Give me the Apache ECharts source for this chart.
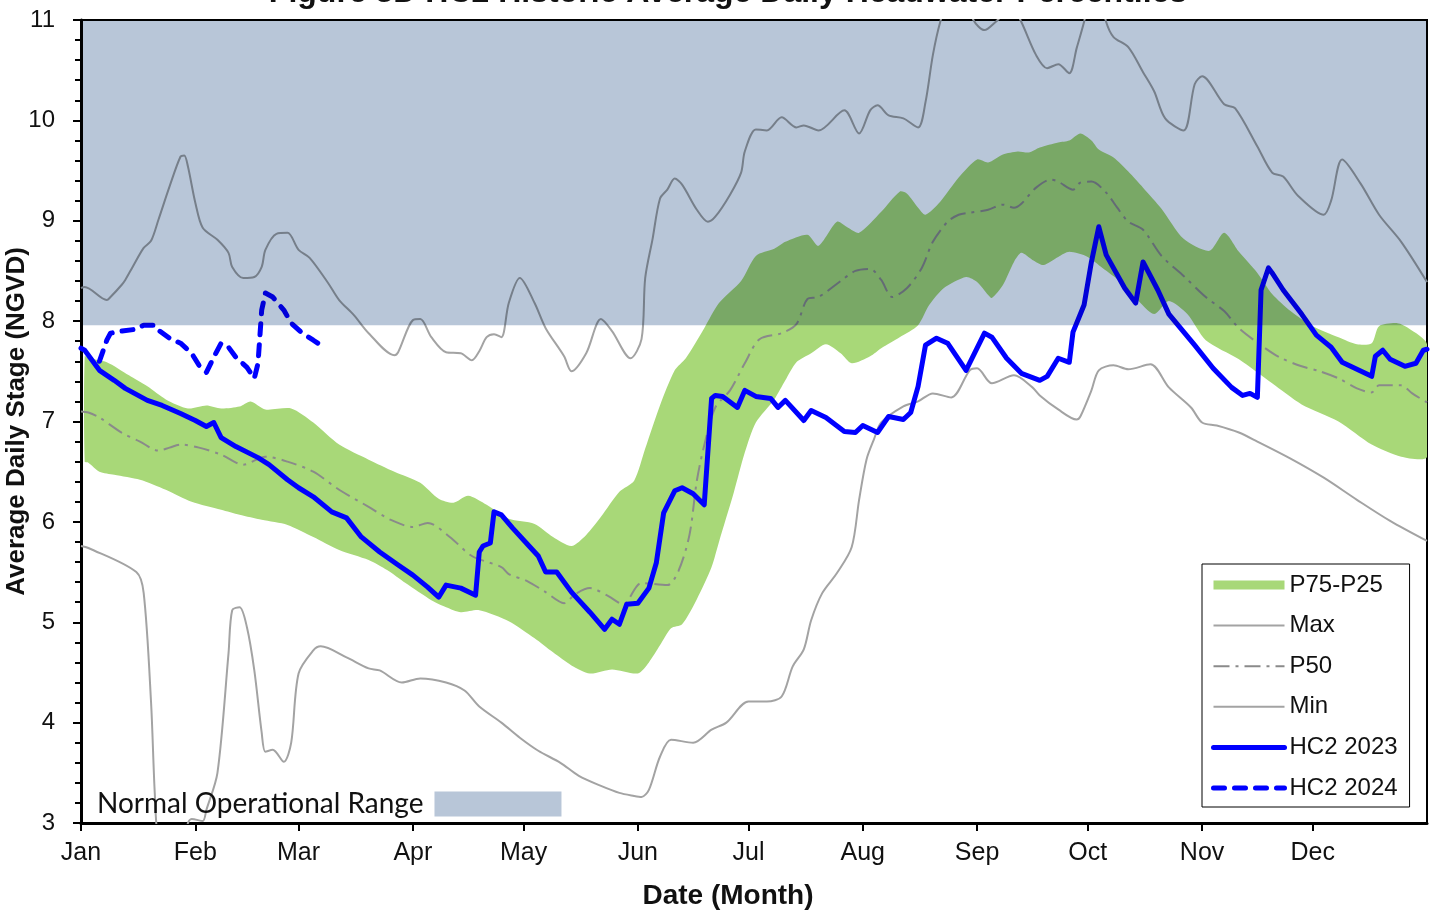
<!DOCTYPE html>
<html>
<head>
<meta charset="utf-8">
<script src="https://cdn.jsdelivr.net/npm/echarts@6/dist/echarts.min.js"></script>
<style>
  html, body { margin: 0; padding: 0; background: #fff; }
  #chart { width: 1456px; height: 913px; }
</style>
</head>
<body>
<div id="chart"></div>
<script>
// Month ticks (day of year where each month starts)
const monthLabels = ['Jan','Feb','Mar','Apr','May','Jun','Jul','Aug','Sep','Oct','Nov','Dec'];
const monthStartDays = [0, 31, 59, 90, 120, 151, 181, 212, 243, 273, 304, 334];
const yearDays = [0, 365];

// Normal operational range (stage, ft NGVD)
const opRange = [7.96, 11];

// Historic percentiles: [day of year, stage]
const p75 = [[1,7.65],[2,7.63],[7,7.59],[13,7.46],[18,7.35],[23,7.22],[29,7.13],[34,7.16],[38,7.13],[43,7.15],[46,7.20],[50,7.12],[57,7.13],[63,6.99],[70,6.77],[78,6.62],[85,6.50],[92,6.39],[97,6.23],[101,6.19],[105,6.26],[110,6.17],[116,6.03],[123,5.98],[128,5.85],[133,5.76],[137,5.87],[141,6.05],[146,6.30],[150,6.41],[153,6.73],[157,7.16],[161,7.51],[164,7.63],[169,7.93],[173,8.18],[179,8.40],[183,8.65],[188,8.72],[191,8.79],[197,8.86],[200,8.75],[205,8.99],[208,8.93],[211,8.88],[217,9.09],[222,9.29],[224,9.27],[227,9.13],[229,9.06],[233,9.19],[238,9.43],[243,9.61],[246,9.58],[250,9.66],[254,9.69],[257,9.68],[260,9.73],[265,9.78],[268,9.80],[271,9.87],[274,9.80],[276,9.71],[280,9.63],[284,9.49],[288,9.33],[293,9.12],[299,8.82],[306,8.70],[310,8.88],[314,8.69],[319,8.48],[323,8.27],[328,8.10],[334,7.95],[341,7.84],[346,7.77],[350,7.78],[352,7.95],[357,7.98],[360,7.93],[365,7.77]];

const p25 = [[1,6.60],[2,6.59],[5,6.50],[9,6.47],[16,6.42],[23,6.32],[30,6.20],[38,6.12],[43,6.07],[49,6.02],[56,5.97],[63,5.85],[70,5.72],[78,5.62],[83,5.52],[88,5.39],[95,5.22],[99,5.15],[103,5.10],[108,5.12],[116,5.01],[123,4.84],[128,4.70],[133,4.57],[138,4.49],[144,4.53],[151,4.49],[154,4.60],[157,4.77],[160,4.94],[163,4.98],[167,5.23],[171,5.55],[173,5.80],[177,6.29],[180,6.69],[183,6.99],[188,7.22],[191,7.41],[194,7.59],[198,7.68],[202,7.77],[206,7.68],[209,7.58],[214,7.65],[217,7.73],[222,7.84],[227,7.96],[230,8.16],[234,8.33],[240,8.44],[243,8.39],[246,8.26],[247,8.23],[250,8.36],[253,8.59],[255,8.68],[258,8.61],[261,8.56],[265,8.64],[268,8.69],[273,8.64],[277,8.53],[282,8.39],[286,8.23],[291,8.07],[295,8.20],[300,8.07],[305,7.81],[314,7.62],[323,7.38],[331,7.17],[341,7.00],[350,6.77],[358,6.65],[365,6.65]];

const p50 = [[0,7.10],[2,7.09],[5,7.04],[11,6.89],[16,6.80],[21,6.71],[24,6.74],[27,6.77],[32,6.74],[38,6.67],[44,6.57],[50,6.65],[56,6.60],[63,6.50],[70,6.32],[78,6.15],[84,6.02],[90,5.95],[94,5.99],[100,5.85],[106,5.66],[114,5.55],[116,5.48],[121,5.41],[126,5.30],[131,5.19],[134,5.28],[138,5.34],[143,5.26],[147,5.18],[152,5.39],[159,5.37],[162,5.51],[165,5.87],[167,6.41],[169,6.76],[172,7.14],[176,7.31],[180,7.58],[184,7.82],[190,7.88],[194,7.97],[197,8.22],[200,8.24],[206,8.40],[210,8.50],[214,8.52],[217,8.41],[220,8.24],[224,8.33],[228,8.53],[231,8.79],[235,8.99],[238,9.06],[241,9.08],[246,9.11],[250,9.16],[253,9.13],[255,9.17],[259,9.33],[263,9.41],[265,9.39],[269,9.31],[271,9.38],[274,9.39],[278,9.28],[281,9.13],[284,8.99],[288,8.91],[293,8.65],[299,8.45],[305,8.24],[310,8.10],[314,7.93],[320,7.76],[325,7.64],[331,7.55],[336,7.50],[341,7.43],[346,7.33],[350,7.29],[352,7.36],[358,7.36],[361,7.28],[365,7.19]];

const maxStage = [[0,8.33],[1,8.34],[7,8.21],[8,8.24],[11,8.36],[12,8.41],[14,8.54],[17,8.73],[19,8.80],[21,9.01],[24,9.34],[27,9.64],[28,9.65],[29,9.54],[31,9.18],[33,8.93],[37,8.81],[40,8.68],[41,8.54],[44,8.43],[47,8.44],[49,8.54],[50,8.71],[53,8.87],[56,8.88],[59,8.71],[62,8.63],[67,8.38],[70,8.21],[74,8.06],[78,7.88],[85,7.66],[86,7.69],[90,8.01],[92,8.02],[95,7.84],[99,7.69],[103,7.68],[106,7.61],[108,7.70],[110,7.84],[112,7.87],[114,7.84],[116,8.18],[119,8.43],[123,8.18],[126,7.93],[131,7.65],[133,7.50],[137,7.68],[141,8.02],[144,7.90],[149,7.63],[152,7.82],[153,8.43],[155,8.82],[157,9.22],[159,9.31],[161,9.42],[163,9.36],[167,9.11],[170,8.99],[172,9.04],[176,9.26],[179,9.48],[180,9.69],[183,9.91],[186,9.90],[190,10.03],[194,9.93],[196,9.95],[200,9.90],[207,10.10],[211,9.87],[214,10.10],[216,10.15],[219,10.05],[223,10.02],[227,9.93],[229,10.18],[231,10.65],[233,10.98],[236,11.30],[240,11.25],[242,11.00],[245,10.90],[248,10.98],[250,11.05],[253,11.10],[255,10.98],[259,10.65],[262,10.52],[265,10.56],[268,10.47],[270,10.72],[272,10.98],[274,11.30],[276,11.30],[278,10.98],[280,10.83],[284,10.73],[288,10.48],[291,10.29],[294,10.02],[299,9.90],[302,10.36],[304,10.44],[310,10.16],[313,10.12],[319,9.74],[323,9.48],[326,9.44],[330,9.25],[337,9.06],[339,9.20],[342,9.61],[347,9.37],[352,9.06],[358,8.79],[365,8.39]];

const minStage = [[0,5.76],[2,5.74],[15,5.50],[17,5.29],[19,4.20],[20,3.30],[21,2.80],[24,2.50],[28,2.80],[29,3.00],[30,3.04],[33,3.02],[34,3.13],[37,3.50],[40,4.69],[41,5.12],[43,5.15],[45,4.95],[47,4.52],[49,3.90],[50,3.71],[52,3.73],[55,3.61],[57,3.80],[59,4.49],[63,4.72],[65,4.76],[72,4.65],[78,4.54],[81,4.52],[87,4.40],[92,4.44],[99,4.40],[104,4.32],[108,4.16],[114,4.00],[119,3.85],[124,3.72],[130,3.60],[135,3.47],[141,3.37],[146,3.30],[150,3.27],[152,3.26],[154,3.33],[157,3.66],[160,3.83],[166,3.80],[171,3.93],[175,4.00],[181,4.21],[186,4.21],[190,4.26],[193,4.56],[196,4.73],[198,5.02],[201,5.29],[205,5.49],[209,5.75],[211,6.22],[213,6.62],[215,6.82],[217,6.99],[223,7.15],[227,7.20],[231,7.28],[236,7.24],[241,7.51],[243,7.53],[247,7.38],[253,7.46],[258,7.34],[260,7.26],[265,7.12],[270,7.02],[271,7.05],[274,7.31],[276,7.51],[280,7.56],[284,7.52],[290,7.57],[295,7.34],[301,7.14],[304,6.99],[308,6.96],[314,6.89],[319,6.80],[328,6.63],[337,6.44],[346,6.22],[355,6.01],[365,5.81]];

// Observed daily stage at HC2
const hc2023 = [[0,7.73],[1,7.71],[5,7.51],[9,7.41],[12,7.33],[18,7.21],[22,7.16],[27,7.08],[31,7.01],[34,6.95],[36,6.99],[38,6.84],[42,6.75],[48,6.64],[51,6.57],[56,6.42],[59,6.34],[63,6.25],[68,6.10],[72,6.04],[76,5.85],[81,5.70],[86,5.57],[90,5.47],[94,5.35],[97,5.25],[99,5.37],[103,5.34],[107,5.27],[108,5.70],[109,5.76],[111,5.79],[112,6.10],[114,6.07],[117,5.94],[121,5.78],[124,5.66],[126,5.50],[129,5.50],[133,5.30],[138,5.10],[142,4.93],[144,5.03],[146,4.98],[148,5.18],[151,5.19],[154,5.34],[156,5.59],[158,6.09],[161,6.31],[163,6.34],[166,6.28],[169,6.17],[171,7.23],[172,7.26],[174,7.25],[178,7.14],[180,7.31],[183,7.25],[187,7.23],[189,7.14],[191,7.21],[196,7.01],[198,7.11],[202,7.04],[207,6.90],[210,6.89],[212,6.96],[216,6.89],[219,7.05],[223,7.02],[225,7.09],[227,7.35],[229,7.76],[232,7.83],[235,7.78],[240,7.51],[245,7.88],[247,7.84],[251,7.63],[255,7.48],[260,7.41],[262,7.45],[265,7.63],[268,7.59],[269,7.89],[272,8.16],[274,8.59],[276,8.94],[278,8.66],[283,8.33],[286,8.18],[288,8.59],[292,8.31],[295,8.07],[302,7.76],[307,7.53],[312,7.34],[315,7.26],[317,7.28],[319,7.24],[320,8.31],[322,8.53],[323,8.48],[326,8.31],[331,8.07],[335,7.86],[339,7.74],[342,7.59],[346,7.52],[350,7.45],[351,7.65],[353,7.71],[355,7.62],[359,7.55],[362,7.58],[364,7.71],[365,7.72]];

const hc2024 = [[5,7.60],[7,7.81],[8,7.88],[11,7.90],[15,7.92],[17,7.96],[20,7.96],[21,7.91],[24,7.83],[27,7.78],[30,7.68],[32,7.56],[34,7.49],[36,7.64],[38,7.78],[40,7.74],[42,7.64],[45,7.54],[47,7.43],[48,7.58],[49,8.11],[50,8.28],[52,8.24],[55,8.11],[57,7.98],[60,7.88],[63,7.81],[65,7.76]];

const FONT = "'Liberation Sans', Arial, sans-serif";

const chart = echarts.init(document.getElementById('chart'), null, { renderer: 'canvas' });

// Shaded band between the 25th and 75th percentile curves
function renderPercentileBand(params, api) {
  const upper = p75.map(p => api.coord(p));
  const lower = p25.slice().reverse().map(p => api.coord(p));
  return {
    type: 'polygon',
    shape: { points: upper.concat(lower), smooth: 0.25 },
    style: { fill: api.visual('color') }
  };
}

// Operational range rectangle, multiplied over everything beneath it
function renderOpRange(params, api) {
  const tl = api.coord([yearDays[0], opRange[1]]);
  const br = api.coord([yearDays[1], opRange[0]]);
  return {
    type: 'rect',
    shape: { x: tl[0], y: tl[1], width: br[0] - tl[0], height: br[1] - tl[1] },
    style: { fill: api.visual('color'), blend: 'multiply' }
  };
}

function grayLine(name, data, extra) {
  return Object.assign({
    type: 'line', name, data, symbol: 'none', smooth: 0.3, z: 2,
    lineStyle: { color: '#a3a3a3', width: 2 },
    itemStyle: { color: '#a3a3a3' },
    silent: true
  }, extra || {});
}

chart.setOption({
  backgroundColor: '#ffffff',
  animation: false,
  title: {
    text: 'Figure 3D HC2 Historic Average Daily Headwater Percentiles',
    left: 'center',
    top: -28,
    textStyle: { fontFamily: FONT, fontSize: 32, fontWeight: 'bold', color: '#111' }
  },
  grid: {
    left: 81, right: 29, top: 20, bottom: 90,
    containLabel: false, outerBoundsMode: 'none',
    show: true, borderColor: '#000', borderWidth: 2, backgroundColor: 'transparent'
  },
  legend: [
    {
      data: [
        { name: 'P75-P25', icon: 'rect', itemStyle: { opacity: 1, color: '#a8d878' } },
        'Max', 'P50', 'Min', 'HC2 2023', 'HC2 2024'
      ],
      orient: 'vertical',
      left: 1202, top: 564,
      itemWidth: 71, itemHeight: 9, itemGap: 16.6,
      padding: [9, 12, 7, 9],
      borderColor: '#000', borderWidth: 1, borderRadius: 0,
      backgroundColor: '#fff',
      selectedMode: false,
      itemStyle: { opacity: 0 },
      lineStyle: { width: 'inherit', type: 'inherit', cap: 'inherit' },
      textStyle: { fontFamily: FONT, fontSize: 24, color: '#111', lineHeight: 24 }
    },
    {
      data: [{ name: 'Normal Operational Range', icon: 'rect' }],
      left: 92, top: 785,
      align: 'right',
      itemWidth: 127, itemHeight: 25,
      selectedMode: false,
      textStyle: { fontFamily: 'Lato, Carlito, sans-serif', fontSize: 28, color: '#111', padding: [0, 6, 0, 0] }
    }
  ],
  xAxis: {
    type: 'value', min: yearDays[0], max: yearDays[1],
    axisLine: { onZero: false, lineStyle: { color: '#000', width: 3 } },
    axisTick: { customValues: monthStartDays, length: 8, lineStyle: { color: '#000', width: 2 } },
    axisLabel: {
      customValues: monthStartDays,
      formatter: v => monthLabels[monthStartDays.indexOf(v)],
      fontFamily: FONT, fontSize: 25, color: '#111', margin: 18
    },
    splitLine: { show: false },
    name: 'Date (Month)', nameLocation: 'middle', nameGap: 59, nameMoveOverlap: false,
    nameTextStyle: { fontFamily: FONT, fontSize: 28, fontWeight: 'bold', color: '#111', padding: [0, 52, 0, 0] }
  },
  yAxis: {
    type: 'value', min: 3, max: 11, interval: 1,
    axisLine: { show: true, onZero: false, lineStyle: { color: '#000', width: 3 } },
    axisTick: { show: true, length: 8, lineStyle: { color: '#000', width: 2 } },
    minorTick: { show: true, splitNumber: 5, length: 6, lineStyle: { color: '#000', width: 2 } },
    axisLabel: { fontFamily: FONT, fontSize: 24, color: '#111', margin: 26 },
    splitLine: { show: false },
    name: 'Average Daily Stage (NGVD)', nameLocation: 'middle', nameGap: 51, nameRotate: 90,
    nameMoveOverlap: false,
    nameTextStyle: { fontFamily: FONT, fontSize: 26, fontWeight: 'bold', color: '#111' }
  },
  series: [
    {
      type: 'custom', name: 'P75-P25', coordinateSystem: 'cartesian2d',
      data: [[0, 0]], renderItem: renderPercentileBand, clip: true, z: 1, silent: true,
      itemStyle: { color: '#a8d878' }
    },
    grayLine('Max', maxStage),
    grayLine('Min', minStage),
    grayLine('P50', p50, {
      smooth: 0.3,
      lineStyle: { color: '#8a8a8a', width: 2, type: [16, 6, 3, 6] },
      itemStyle: { color: '#8a8a8a' }
    }),
    {
      type: 'line', name: 'HC2 2023', data: hc2023, symbol: 'none', z: 3, silent: true,
      lineStyle: { color: '#0000ff', width: 5, join: 'round', cap: 'round' },
      itemStyle: { color: '#0000ff' }
    },
    {
      type: 'line', name: 'HC2 2024', data: hc2024, symbol: 'none', z: 3, silent: true,
      lineStyle: { color: '#0000ff', width: 5, type: [11, 10], cap: 'round', join: 'round' },
      itemStyle: { color: '#0000ff' }
    },
    {
      type: 'custom', name: 'Normal Operational Range', coordinateSystem: 'cartesian2d',
      data: [[0, 0]], renderItem: renderOpRange, clip: true, z: 4, silent: true,
      blendMode: 'multiply',
      itemStyle: { color: '#b8c6d8' }
    }
  ]
});
</script>
</body>
</html>
